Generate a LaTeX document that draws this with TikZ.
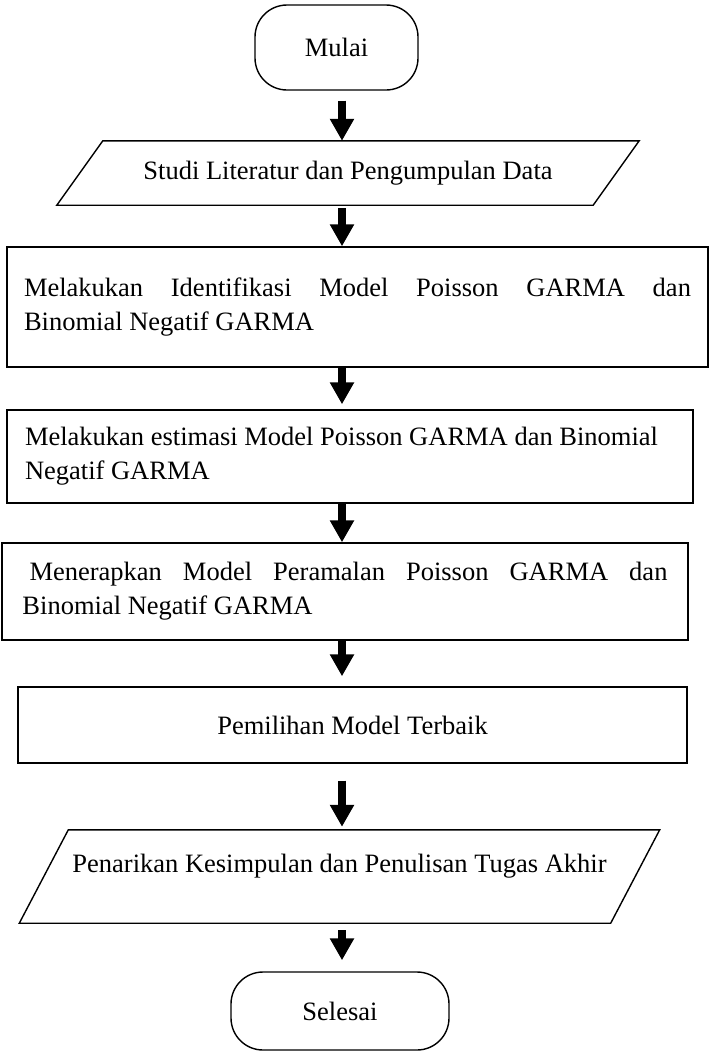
\documentclass[tikz,border=0pt]{standalone}
\usepackage{fontspec}
\setmainfont{Liberation Serif}
\usetikzlibrary{arrows.meta}
\hyphenpenalty=10000
\tolerance=10000
\hbadness=10000

\begin{document}
\begin{tikzpicture}[x=1pt,y=-1pt,
        kotak/.style={draw,line width=1.4pt,inner sep=0pt},
        terminal/.style={kotak,rounded corners=32pt},
        huruf/.style={font=\fontsize{26.5}{34}\selectfont},
        panah/.style={line width=8pt,-{Triangle[width=23pt,length=22pt]}}]
        \useasboundingbox (0,0) rectangle (709,1053);
        \coordinate (sumbu) at (342,0);

        \node[terminal,huruf,minimum width=163,minimum height=85] (mulai) at (336.5,47.5) {Mulai};

        \node[huruf,inner sep=0pt,minimum width=536,minimum height=64] (studi) at (348,173) {Studi Literatur dan Pengumpulan Data};
        \draw[line width=1.4pt] ([xshift=-23]studi.south west) -- ([xshift=-23]studi.south east) -- ([xshift=23]studi.north east) -- ([xshift=23]studi.north west) -- cycle;

        \node[kotak,huruf,minimum width=701,minimum height=120,text width=667,align=justify,inner xsep=17] (identifikasi) at (357.5,307) {Melakukan Identifikasi Model Poisson GARMA dan\linebreak Binomial Negatif GARMA};
        \node[kotak,huruf,minimum width=686,minimum height=93,text width=650,align=flush left,inner xsep=18] (estimasi) at (350,456.5) {Melakukan estimasi Model Poisson GARMA dan Binomial Negatif GARMA};
        \node[kotak,huruf,minimum width=686,minimum height=97,text width=645,align=justify,inner xsep=20.5] (terapkan) at (345,591.5) {\hspace*{7pt}Menerapkan Model Peramalan Poisson GARMA dan Binomial Negatif GARMA};
        \node[kotak,huruf,minimum width=669,minimum height=76] (pilih) at (352.5,725) {Pemilihan Model Terbaik};

        \node[huruf,inner sep=0pt,minimum width=591,minimum height=93,text height=18pt,text depth=27pt] (simpulan) at (339.5,876.5) {Penarikan Kesimpulan dan Penulisan Tugas Akhir};
        \draw[line width=1.4pt] ([xshift=-24.5]simpulan.south west) -- ([xshift=-24.5]simpulan.south east) -- ([xshift=24.5]simpulan.north east) -- ([xshift=24.5]simpulan.north west) -- cycle;

        \node[terminal,huruf,minimum width=218,minimum height=78] (selesai) at (340,1011) {Selesai};

        \draw[panah,shorten <=10pt] (mulai.south -| sumbu) -- (studi.north -| sumbu);
        \draw[panah,shorten <=3pt] (studi.south -| sumbu) -- (identifikasi.north -| sumbu);
        \draw[panah,shorten >=5pt] (identifikasi.south -| sumbu) -- (estimasi.north -| sumbu);
        \draw[panah] (estimasi.south -| sumbu) -- (terapkan.north -| sumbu);
        \draw[panah,shorten >=10pt] (terapkan.south -| sumbu) -- (pilih.north -| sumbu);
        \draw[panah,shorten <=17pt,shorten >=3pt] (pilih.south -| sumbu) -- (simpulan.north -| sumbu);
        \draw[panah,shorten <=7pt,shorten >=11pt] (simpulan.south -| sumbu) -- (selesai.north -| sumbu);

\end{tikzpicture}
\end{document}
